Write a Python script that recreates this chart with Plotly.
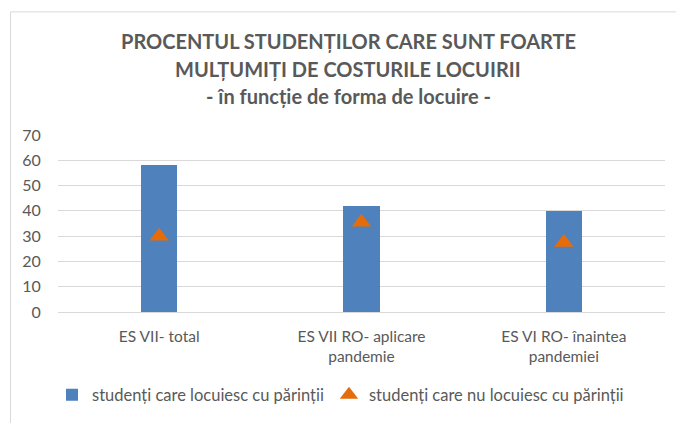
import plotly.graph_objects as go

# Data
categories = ["ES VII- total", "ES VII RO- aplicare<br>pandemie", "ES VI RO- înaintea<br>pandemiei"]
cu_parintii = [58, 42, 40]
fara_parinti = [30, 35.5, 27.5]
series_names = ["studenți care locuiesc cu părinții", "studenți care nu locuiesc cu părinții"]
y_ticks = [0, 10, 20, 30, 40, 50, 60, 70]
title_lines = [
    "PROCENTUL STUDENȚILOR CARE SUNT FOARTE",
    "MULȚUMIȚI DE COSTURILE LOCUIRII",
    "- în funcție de forma de locuire -",
]

W, H = 676, 423
L, R, T, B = 58, 11, 135, 109
TEXT = "#595959"
FONT = "Lato, 'Open Sans', sans-serif"
HIDDEN = "rgba(0,0,0,0)"


def px_x(x):
    return (x - L) / (W - L - R)


def px_y(y):
    return (H - B - y) / (H - T - B)


fig = go.Figure()
fig.add_trace(go.Bar(
    x=categories, y=cu_parintii, name=series_names[0],
    marker=dict(color="#4F81BD", line=dict(color="#4F81BD", width=0)),
    width=0.18,
))
fig.add_trace(go.Scatter(
    x=categories, y=fara_parinti, name=series_names[1], mode="markers",
    marker=dict(symbol="triangle-up", size=17, color="#E46C0A"),
))

annotations = []
for txt, yc in zip(title_lines, [40, 68, 96]):
    annotations.append(dict(
        text=f"<b>{txt}</b>", x=px_x(348), y=px_y(yc), xref="paper", yref="paper",
        xanchor="center", yanchor="middle", showarrow=False,
        font=dict(family=FONT, size=20, color=TEXT),
    ))

fig.update_layout(
    width=W, height=H,
    margin=dict(l=L, r=R, t=T, b=B),
    paper_bgcolor="white", plot_bgcolor="white",
    showlegend=True,
    legend=dict(
        orientation="h", x=px_x(52), xanchor="left", y=px_y(398), yanchor="middle",
        font=dict(family=FONT, size=16.5, color=TEXT), itemwidth=30,
        traceorder="normal",
    ),
    font=dict(family=FONT, size=14, color=TEXT),
    xaxis=dict(showgrid=False, showline=True, linecolor="#d9d9d9", linewidth=1,
               tickfont=dict(size=15.5, color=TEXT),
               ticks="outside", ticklen=10, tickcolor=HIDDEN),
    yaxis=dict(range=[0, 70], tickvals=y_ticks, showgrid=True, gridcolor="#d9d9d9",
               gridwidth=1, zeroline=False, showline=False,
               ticks="outside", ticklen=13, tickcolor=HIDDEN,
               tickfont=dict(size=16, color=TEXT)),
    annotations=annotations,
    shapes=[dict(type="rect", xref="paper", yref="paper",
                 x0=px_x(10.5), x1=px_x(690), y0=px_y(440), y1=px_y(10.5),
                 line=dict(color="#d9d9d9", width=1), layer="below")],
    bargap=0,
)

fig.write_html("out.html")
